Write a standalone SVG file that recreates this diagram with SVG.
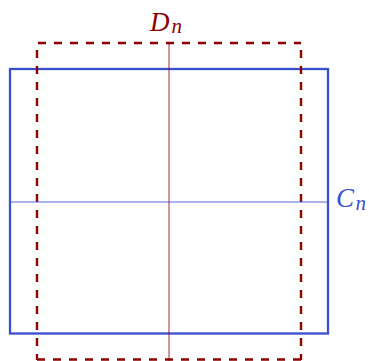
<svg xmlns="http://www.w3.org/2000/svg" width="369" height="361" viewBox="0 0 369 361">
<style>
.blue{stroke:#3a4fd0;fill:none}
.red{stroke:#8b0000;fill:none}
.dash{stroke-width:2.4;stroke-dasharray:8 8}
.lbl{font-family:"Liberation Serif","DejaVu Serif",serif;font-style:italic}
</style>
<rect width="369" height="361" fill="#fff"/>
<g id="C">
<rect class="blue" x="10" y="69" width="318" height="264.5" stroke-width="2.3"/>
<text class="lbl" x="336" y="206.5" font-size="27" fill="#3a4fd0">C<tspan font-size="21" dy="3.5" dx="1.5">n</tspan></text>
</g>
<g id="D">
<line class="red dash" x1="37" y1="43" x2="301" y2="43" stroke-dashoffset="-1"/>
<line class="red dash" x1="37" y1="43" x2="37" y2="360" stroke-dashoffset="9"/>
<line class="red dash" x1="301" y1="43" x2="301" y2="360" stroke-dashoffset="9"/>
<line class="red dash" x1="37" y1="359.5" x2="301" y2="359.5" stroke-dashoffset="0"/>
<text class="lbl" x="150" y="30.5" font-size="27" fill="#8b0000">D<tspan font-size="21" dy="2.5" dx="2">n</tspan></text>
</g>
<g id="connectors">
<line x1="169" y1="43" x2="169" y2="361" stroke="#8b0000" stroke-opacity="0.75" stroke-width="1.1"/>
<line x1="10" y1="202" x2="328" y2="202" stroke="#3a4fd0" stroke-opacity="0.85" stroke-width="1.1"/>
</g>
</svg>
